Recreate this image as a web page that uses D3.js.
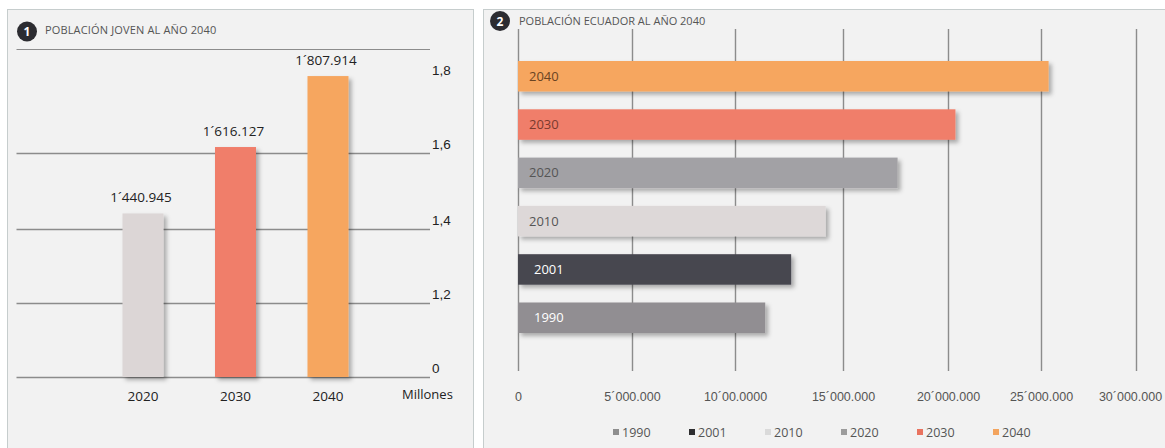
<html>
  <head>
    <script src="https://cdn.jsdelivr.net/npm/d3@7"></script>
  </head>
  <style type="text/css">
    body {
      margin: 0;
      background: #fff;
    }
    svg {
      font-family: "Open Sans", sans-serif;
    }
    .grid line {
      stroke: #8c8c8c;
      stroke-width: 1.4;
    }
    .grid path {
      display: none;
    }
    .title {
      font-size: 11px;
      fill: #555;
    }
  </style>
  <body>
    <div id="chart"></div>
  </body>
  <script type="text/javascript">
    // panel 1: poblacion joven (millones)
    var jovenYears = ["2020", "2030", "2040"];
    var jovenValues = [1.440945, 1.616127, 1.807914];
    var jovenLabels = ["1´440.945", "1´616.127", "1´807.914"];
    var jovenTicks = [0, 1.2, 1.4, 1.6, 1.8];
    var jovenTickLabels = ["0", "1,2", "1,4", "1,6", "1,8"];

    // panel 2: poblacion Ecuador
    var popYears = ["2040", "2030", "2020", "2010", "2001", "1990"];
    var popValues = [25400000, 20400000, 17600000, 14200000, 12600000, 11400000];
    var popTicks = [0, 5000000, 10000000, 15000000, 20000000, 25000000, 30000000];
    var popTickLabels = ["0", "5´000.000", "10´00.0000", "15´000.000", "20´000.000", "25´000.000", "30´000.000"];
    var legendYears = ["1990", "2001", "2010", "2020", "2030", "2040"];

    var width = 1165;
    var height = 448;

    var jovenColor = {"2020": "#dcd6d6", "2030": "#f07e6a", "2040": "#f6a65f"};
    var barColor = {
      "1990": "#918e92", "2001": "#47464f", "2010": "#ddd8d8",
      "2020": "#a2a1a5", "2030": "#f07e6a", "2040": "#f6a65f"
    };
    var legendColor = {
      "1990": "#8e8e8e", "2001": "#2e2e30", "2010": "#dadada",
      "2020": "#9c9c9c", "2030": "#e9735f", "2040": "#f3a45e"
    };
    var labelColor = {
      "1990": "#fff", "2001": "#fff", "2010": "#555",
      "2020": "#555", "2030": "#7a3a2e", "2040": "#6a4422"
    };

    var svg = d3.select("#chart").append("svg")
      .attr("width", width)
      .attr("height", height);

    var defs = svg.append("defs");
    defs.append("filter")
      .attr("id", "shadow")
      .attr("x", "-20%").attr("y", "-30%")
      .attr("width", "150%").attr("height", "180%")
      .append("feDropShadow")
      .attr("dx", 3).attr("dy", 3)
      .attr("stdDeviation", 2)
      .attr("flood-color", "#000")
      .attr("flood-opacity", 0.3);

    /* panels */
    svg.append("rect")
      .attr("x", 7.5).attr("y", 9.5)
      .attr("width", 466).attr("height", 450)
      .attr("fill", "#f2f2f2")
      .attr("stroke", "#c6cdcd");
    svg.append("rect")
      .attr("x", 483.5).attr("y", 9.5)
      .attr("width", 700).attr("height", 450)
      .attr("fill", "#f2f2f2")
      .attr("stroke", "#c6cdcd");

    function badge(cx, cy, n) {
      svg.append("circle")
        .attr("cx", cx).attr("cy", cy).attr("r", 10)
        .attr("fill", "#2c2c31");
      svg.append("text")
        .attr("x", cx).attr("y", cy + 4.5)
        .attr("text-anchor", "middle")
        .attr("fill", "#fff")
        .style("font-size", "12px")
        .style("font-weight", "bold")
        .text(n);
    }

    /* ---------- Panel 1 ---------- */
    badge(27, 31.5, "1");
    svg.append("text")
      .attr("class", "title")
      .attr("x", 45).attr("y", 34)
      .style("letter-spacing", "0.15px")
      .text("POBLACIÓN JOVEN AL AÑO 2040");

    svg.append("line")
      .attr("x1", 16.5).attr("x2", 430)
      .attr("y1", 49.5).attr("y2", 49.5)
      .attr("stroke", "#8c8c8c")
      .attr("stroke-width", 1.2);

    // broken axis: 0 then 1,2 .. 1,8
    var yJoven = d3.scaleLinear()
      .domain(jovenTicks)
      .range([377, 303, 229, 153, 79]);

    var xJoven = d3.scalePoint()
      .domain(jovenYears)
      .range([143, 328]);

    var yAxis = d3.axisLeft(yJoven)
      .tickValues(jovenTicks)
      .tickSize(413.5)
      .tickFormat((d, i) => jovenTickLabels[i]);

    var gy = svg.append("g")
      .attr("class", "grid")
      .attr("transform", "translate(430,0)")
      .call(yAxis);
    // top value has a label but no gridline
    gy.selectAll(".tick line")
      .filter(d => d === jovenTicks[jovenTicks.length - 1])
      .remove();
    gy.selectAll("text")
      .attr("x", 2)
      .attr("dy", -5)
      .attr("text-anchor", "start")
      .attr("fill", "#222")
      .style("font-size", "13.5px");

    var bw = 41;
    svg.append("g").selectAll("rect")
      .data(jovenYears).enter()
      .append("rect")
      .attr("x", d => xJoven(d) - bw / 2)
      .attr("width", bw)
      .attr("y", (d, i) => yJoven(jovenValues[i]))
      .attr("height", (d, i) => yJoven(0) - yJoven(jovenValues[i]))
      .attr("fill", d => jovenColor[d])
      .attr("filter", "url(#shadow)");

    svg.append("g").selectAll("text")
      .data(jovenYears).enter()
      .append("text")
      .attr("x", d => xJoven(d) - 2)
      .attr("y", (d, i) => yJoven(jovenValues[i]) - 11)
      .attr("text-anchor", "middle")
      .attr("fill", "#222")
      .style("font-size", "13.5px")
      .text((d, i) => jovenLabels[i]);

    svg.append("g").selectAll("text")
      .data(jovenYears).enter()
      .append("text")
      .attr("x", d => xJoven(d))
      .attr("y", 401)
      .attr("text-anchor", "middle")
      .attr("fill", "#222")
      .style("font-size", "13.5px")
      .text(d => d);

    svg.append("text")
      .attr("x", 402).attr("y", 399)
      .attr("fill", "#222")
      .style("font-size", "13px")
      .text("Millones");

    /* ---------- Panel 2 ---------- */
    badge(500, 21, "2");
    svg.append("text")
      .attr("class", "title")
      .attr("x", 519).attr("y", 25)
      .text("POBLACIÓN ECUADOR AL AÑO 2040");

    // gridlines in the original are hand spaced, so the scale is piecewise
    var xPop = d3.scaleLinear()
      .domain(popTicks)
      .range([518, 632, 735, 843, 948, 1041, 1136]);

    var yPop = d3.scaleBand()
      .domain(popYears)
      .range([61, 333])
      .paddingInner(0.3685);

    var xAxis = d3.axisBottom(xPop)
      .tickValues(popTicks)
      .tickSize(-342)
      .tickPadding(21)
      .tickFormat((d, i) => popTickLabels[i]);

    var gx = svg.append("g")
      .attr("class", "grid")
      .attr("transform", "translate(0,371)")
      .call(xAxis);
    gx.selectAll("text")
      .attr("fill", "#555")
      .attr("dx", (d, i) => i === popTicks.length - 1 ? -6 : 0)
      .style("font-size", "12.5px");

    svg.append("g").selectAll("rect")
      .data(popYears).enter()
      .append("rect")
      .attr("x", xPop(0))
      .attr("y", d => yPop(d))
      .attr("width", (d, i) => xPop(popValues[i]) - xPop(0))
      .attr("height", yPop.bandwidth())
      .attr("fill", d => barColor[d])
      .attr("filter", "url(#shadow)");

    svg.append("g").selectAll("text")
      .data(popYears).enter()
      .append("text")
      .attr("x", d => xPop(0) + (labelColor[d] === "#fff" ? 16 : 11))
      .attr("y", d => yPop(d) + yPop.bandwidth() / 2 + 4.5)
      .attr("fill", d => labelColor[d])
      .style("font-size", "13px")
      .text(d => d);

    /* legend */
    var legend = svg.append("g")
      .attr("transform", "translate(613,0)")
      .selectAll("g")
      .data(legendYears).enter()
      .append("g")
      .attr("transform", (d, i) => `translate(${i * 76},0)`);
    legend.append("rect")
      .attr("x", 0).attr("y", 429)
      .attr("width", 6).attr("height", 6)
      .attr("fill", d => legendColor[d]);
    legend.append("text")
      .attr("x", 9).attr("y", 437)
      .attr("fill", "#555")
      .style("font-size", "12.5px")
      .text(d => d);
  </script>
</html>
